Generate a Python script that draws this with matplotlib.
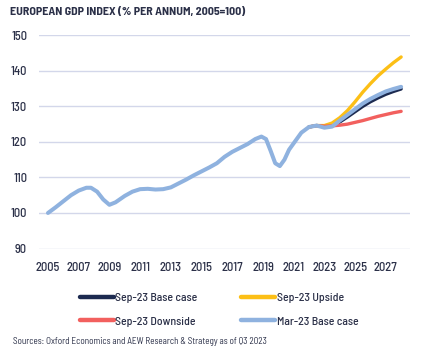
import matplotlib
matplotlib.use("Agg")
import matplotlib.pyplot as plt
from matplotlib.lines import Line2D

# ---- data ----
hist_years = [2005.0, 2005.5, 2006.0, 2006.5, 2007.0, 2007.5, 2007.8, 2008.2, 2008.6, 2009.0,
              2009.4, 2010.0, 2010.5, 2011.0, 2011.5, 2012.0, 2012.5, 2013.0, 2013.5, 2014.0,
              2014.5, 2015.0, 2015.5, 2016.0, 2016.5, 2017.0, 2017.5, 2018.0, 2018.5, 2018.9,
              2019.2, 2019.5, 2019.8, 2020.1, 2020.4, 2020.7, 2021.0, 2021.5, 2022.0, 2022.5]
hist_values = [100.0, 101.6, 103.3, 105.0, 106.3, 107.1, 107.1, 106.0, 103.8, 102.3,
               103.0, 104.8, 106.0, 106.7, 106.8, 106.6, 106.7, 107.2, 108.3, 109.4,
               110.6, 111.7, 112.8, 114.0, 115.8, 117.2, 118.3, 119.4, 120.8, 121.5,
               120.8, 117.5, 114.0, 113.2, 115.0, 117.8, 119.6, 122.6, 124.2, 124.6]

fc_years = [2022.0, 2022.5, 2023.0, 2023.5, 2024.0, 2024.5, 2025.0, 2025.5, 2026.0, 2026.5,
            2027.0, 2027.5, 2028.0]
sep23_base = [124.2, 124.6, 124.3, 124.6, 125.6, 127.0, 128.5, 130.0, 131.3, 132.4, 133.4, 134.2, 134.9]
sep23_upside = [124.2, 124.6, 124.6, 125.3, 126.8, 128.8, 131.3, 134.0, 136.4, 138.6, 140.5, 142.3, 143.9]
sep23_downside = [124.2, 124.6, 124.4, 124.5, 124.7, 125.0, 125.5, 126.0, 126.6, 127.2, 127.7, 128.2, 128.6]
mar23_fc_years = [2023.0, 2023.5, 2024.0, 2024.5, 2025.0, 2025.5, 2026.0, 2026.5, 2027.0, 2027.5, 2028.0]
mar23_fc_values = [124.0, 124.3, 126.0, 127.6, 129.2, 130.8, 132.1, 133.2, 134.2, 134.9, 135.5]

x_ticks = list(range(2005, 2028, 2))
y_ticks = [90, 100, 110, 120, 130, 140, 150]

labels = ["Sep-23 Base case", "Sep-23 Upside", "Sep-23 Downside", "Mar-23 Base case"]
colors = {"base": "#1c2a50", "up": "#fcbf16", "down": "#f2605e", "mar": "#8fb2df"}

text_color = "#2b3048"
grid_color = "#d3d7ea"
FONT = ["Barlow Semi Condensed", "DejaVu Sans"]
plt.rcParams["font.family"] = FONT

fig = plt.figure(figsize=(4.23, 3.53), dpi=100)
ax = fig.add_axes([0.092, 0.296, 0.877, 0.604])

kw = dict(solid_capstyle="round", solid_joinstyle="round")
ax.plot(fc_years, sep23_base, color=colors["base"], lw=2.4, zorder=3, **kw)
ax.plot(fc_years, sep23_upside, color=colors["up"], lw=2.4, zorder=3, **kw)
ax.plot(fc_years, sep23_downside, color=colors["down"], lw=2.4, zorder=3, **kw)
ax.plot(hist_years + mar23_fc_years, hist_values + mar23_fc_values,
        color=colors["mar"], lw=2.9, zorder=4, **kw)

ax.set_xlim(2004.41, 2028.57)
ax.set_ylim(90, 150)
ax.set_xticks(x_ticks)
ax.set_yticks(y_ticks)
ax.tick_params(axis="both", length=0, labelsize=9, colors=text_color)
ax.tick_params(axis="y", pad=8.5)
ax.tick_params(axis="x", pad=9.5)
for t in ax.get_xticklabels() + ax.get_yticklabels():
    t.set_fontweight("medium")
ax.grid(axis="y", color=grid_color, lw=1.0)
ax.set_axisbelow(True)
for s in ax.spines.values():
    s.set_visible(False)

fig.text(10 / 423, 1 - 12 / 353, "EUROPEAN GDP INDEX (% PER ANNUM, 2005=100)",
         fontsize=8.6, fontweight="bold", color=text_color, va="center", ha="left")

handles = [Line2D([], [], color=colors["base"], lw=3.2, solid_capstyle="round"),
           Line2D([], [], color=colors["down"], lw=3.2, solid_capstyle="round"),
           Line2D([], [], color=colors["up"], lw=3.2, solid_capstyle="round"),
           Line2D([], [], color=colors["mar"], lw=3.2, solid_capstyle="round")]
leg_labels = [labels[0], labels[2], labels[1], labels[3]]
leg = fig.legend(handles, leg_labels, ncol=2, loc="center",
                 bbox_to_anchor=(219 / 423, 1 - 309.5 / 353), frameon=False,
                 fontsize=8.5, handlelength=2.9, handletextpad=0.1,
                 columnspacing=3.7, labelspacing=1.15)
for t in leg.get_texts():
    t.set_color(text_color)
    t.set_fontweight("medium")

fig.text(13 / 423, 1 - 342 / 353,
         "Sources: Oxford Economics and AEW Research & Strategy as of Q3 2023",
         fontsize=6.6, color=text_color, va="center", ha="left")

fig.savefig("out.png", dpi=100)
